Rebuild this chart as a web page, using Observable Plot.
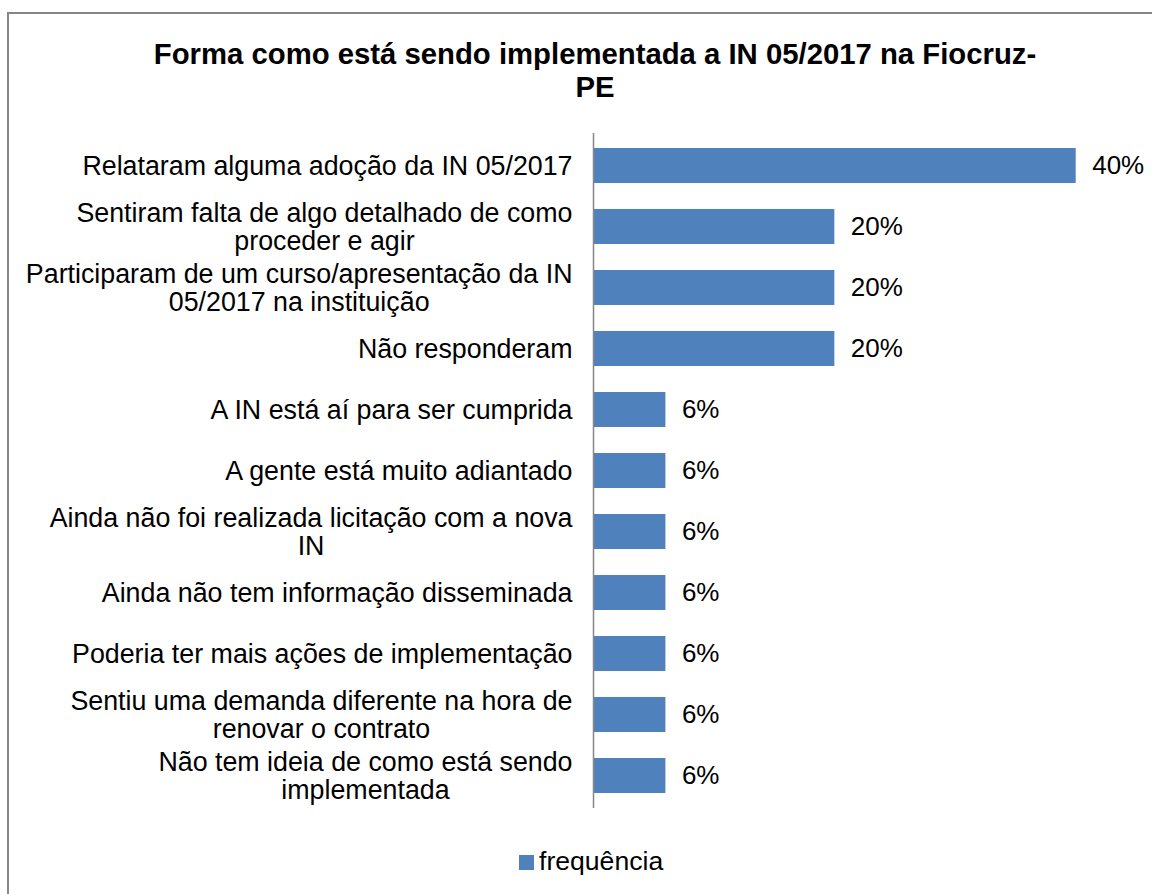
<!DOCTYPE html>
<html>
<head>
<meta charset="utf-8">
<script src="https://cdn.jsdelivr.net/npm/d3@7"></script>
<script src="https://cdn.jsdelivr.net/npm/@observablehq/plot@0.6"></script>
<style>
  html, body { margin: 0; padding: 0; width: 1152px; height: 894px; overflow: hidden; background: #fff; }
  body { position: relative; font-family: "Liberation Sans", Arial, sans-serif; color: #000; }
  #frame { position: absolute; left: 7px; top: 12px; width: 1200px; height: 920px; border: 2px solid #868686; box-sizing: border-box; }
  #title { position: absolute; left: 0; width: 1190px; top: 37px; text-align: center; font-weight: bold; font-size: 29.3px; line-height: 33px; }
  #chart { position: absolute; left: 0; top: 110px; }
  #legend { position: absolute; left: 519px; top: 846px; font-size: 26.6px; line-height: 30px; display: flex; align-items: center; }
  #legend .sw { display: inline-block; width: 15px; height: 15px; background: #4F81BD; margin-right: 5px; margin-top: 2px; }
</style>
</head>
<body>
<div id="frame"></div>
<div id="title">Forma como está sendo implementada a IN 05/2017 na Fiocruz-<br>PE</div>
<div id="chart"></div>
<div id="legend"><span class="sw"></span><span>frequência</span></div>
<script>
const categories = [
  "Relataram alguma adoção da IN 05/2017",
  "Sentiram falta de algo detalhado de como\nproceder e agir",
  "Participaram de um curso/apresentação da IN\n05/2017 na instituição",
  "Não responderam",
  "A IN está aí para ser cumprida",
  "A gente está muito adiantado",
  "Ainda não foi realizada licitação com a nova\nIN",
  "Ainda não tem informação disseminada",
  "Poderia ter mais ações de implementação",
  "Sentiu uma demanda diferente na hora de\nrenovar o contrato",
  "Não tem ideia de como está sendo\nimplementada"
];
const values = [40, 20, 20, 20, 6, 6, 6, 6, 6, 6, 6];
const valueLabels = ["40%", "20%", "20%", "20%", "6%", "6%", "6%", "6%", "6%", "6%", "6%"];
const seriesName = "frequência";

const data = categories.map((c, i) => ({cat: c, value: values[i], label: valueLabels[i]}));

const FONT_SIZE = 26.8;
const VALUE_FONT_SIZE = 26;
const FONT = `${FONT_SIZE}px "Liberation Sans", Arial, sans-serif`;
const ctx = document.createElement("canvas").getContext("2d");
ctx.font = FONT;
const measure = t => ctx.measureText(t).width;

const LINE_H = 28;
const GAP = 21;

// One text mark per label line so that wrapped lines are centred on each other
const labelMarks = [];
categories.forEach(c => {
  const lines = c.split("\n");
  const bw = Math.max(...lines.map(measure));
  lines.forEach((t, j) => {
    const w = measure(t);
    labelMarks.push(Plot.text([c], {
      x: () => 0,
      y: d => d,
      text: () => t,
      textAnchor: "end",
      dx: -(GAP + (bw - w) / 2),
      dy: (j - (lines.length - 1) / 2) * LINE_H,
      fontSize: FONT_SIZE,
      fill: "#000"
    }));
  });
});

const plot = Plot.plot({
  width: 1152,
  height: 720,
  marginLeft: 593,
  marginRight: 76.3,
  marginTop: 23,
  marginBottom: 22,
  style: {fontFamily: '"Liberation Sans", Arial, sans-serif', background: "transparent", overflow: "visible"},
  x: {domain: [0, 40], axis: null},
  y: {domain: categories, axis: null, paddingInner: 0.43, paddingOuter: 0.215},
  marks: [
    Plot.barX(data, {x: "value", y: "cat", fill: "#4F81BD"}),
    Plot.ruleX([0], {stroke: "#868686", strokeWidth: 1.5}),
    Plot.text(data, {x: "value", y: "cat", text: "label", textAnchor: "start", dx: 16, fontSize: VALUE_FONT_SIZE, fill: "#000"}),
    ...labelMarks
  ]
});
document.getElementById("chart").appendChild(plot);
</script>
</body>
</html>
